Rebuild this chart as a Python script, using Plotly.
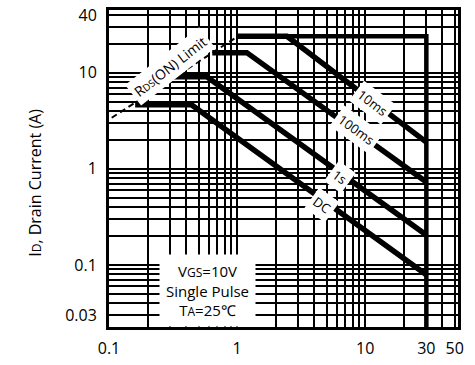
import math
import plotly.graph_objects as go

# ---- data ----
rds_x = [0.105, 1.0]
rds_y = [3.4, 23.7]

limit_x = [1.0, 30, 30]
limit_y = [24, 24, 0.0226]

ms10_x = [1.0, 2.45, 30]
ms10_y = [24, 24, 1.9]

ms100_x = [0.64, 1.19, 30]
ms100_y = [16.2, 16.2, 0.73]

s1_x = [0.27, 0.58, 30]
s1_y = [9.1, 9.1, 0.205]

dc_x = [0.16, 0.44, 30]
dc_y = [4.64, 4.64, 0.079]

x_labels = {0.1: "0.1", 1: "1", 10: "10", 30: "30", 50: "50"}
y_labels = {0.03: "0.03", 0.1: "0.1", 1: "1", 10: "10", 40: "40"}

# curve labels: (text, x, y, angle)
curve_labels = [
    ("10ms", 11.5, 4.87, 37),
    ("100ms", 8.6, 2.55, 36),
    ("1s", 6.35, 0.826, 36),
    ("DC", 4.6, 0.42, 36),
]

FONT = "Open Sans"

# grid values (log grid 1..9 per decade)
xgrid = []
for d in [0.1, 1, 10]:
    for m in range(1, 10):
        v = round(m * d, 6)
        if v <= 50:
            xgrid.append(v)
xgrid.append(50)
ygrid = []
for d in [0.01, 0.1, 1, 10]:
    for m in range(1, 10):
        v = round(m * d, 6)
        if 0.03 <= v <= 40:
            ygrid.append(v)

fig = go.Figure()
fig.add_trace(go.Scatter(x=rds_x, y=rds_y, mode="lines",
                         line=dict(color="black", width=2, dash="6px,4px")))
thick = dict(color="black", width=5.5)
fig.add_trace(go.Scatter(x=limit_x, y=limit_y, mode="lines", line=dict(color="black", width=4.5)))
for xs, ys in [(ms10_x, ms10_y), (ms100_x, ms100_y), (s1_x, s1_y), (dc_x, dc_y)]:
    fig.add_trace(go.Scatter(x=xs, y=ys, mode="lines", line=thick))

for text, x, y, ang in curve_labels:
    fig.add_annotation(x=math.log10(x), y=math.log10(y), xref="x", yref="y",
                       text=text, showarrow=False, textangle=ang,
                       font=dict(family=FONT, size=13, color="black"),
                       bgcolor="white", borderpad=3)

fig.add_annotation(x=math.log10(0.30), y=math.log10(11.5), xref="x", yref="y",
                   text="R<span style='font-size:10px'>DS</span>(ON) Limit",
                   showarrow=False, textangle=-38,
                   font=dict(family=FONT, size=14, color="black"),
                   bgcolor="white", borderpad=3)

fig.add_annotation(x=-0.235, y=0.0, xref="x", yref="paper",
                   xanchor="center", yanchor="bottom",
                   text="V<span style='font-size:12px'>GS</span>=10V<br>Single Pulse<br>T<span style='font-size:12px'>A</span>=25℃",
                   showarrow=False, align="center",
                   font=dict(family=FONT, size=15, color="black"),
                   bgcolor="white", borderpad=6)

# y-axis title (placed as rotated text, like the reference)
fig.add_annotation(x=-0.212, y=0.455, xref="paper", yref="paper",
                   xanchor="center", yanchor="middle",
                   text="I<span style='font-size:12px'>D</span>, Drain Current (A)",
                   showarrow=False, textangle=-90,
                   font=dict(family=FONT, size=16, color="black"))

fig.update_xaxes(type="log", range=[-1, math.log10(53)],
                 tickvals=xgrid,
                 ticktext=[x_labels.get(v, "") for v in xgrid],
                 showgrid=True, gridcolor="black", gridwidth=2,
                 showline=True, linecolor="black", linewidth=3, mirror=True,
                 ticks="", ticklabelstandoff=5, zeroline=False, automargin=False,
                 tickfont=dict(family=FONT, size=16, color="black"))
fig.update_yaxes(type="log", range=[math.log10(0.0226), math.log10(45)],
                 tickvals=ygrid,
                 ticktext=[y_labels.get(v, "") for v in ygrid],
                 showgrid=True, gridcolor="black", gridwidth=2,
                 showline=True, linecolor="black", linewidth=3, mirror=True,
                 ticks="", ticklabelstandoff=6, zeroline=False, automargin=False,
                 tickfont=dict(family=FONT, size=16, color="black"))

fig.update_layout(width=475, height=365,
                  margin=dict(l=109, r=17, t=10, b=38),
                  paper_bgcolor="white", plot_bgcolor="white",
                  showlegend=False)

fig.write_html("out.html")
